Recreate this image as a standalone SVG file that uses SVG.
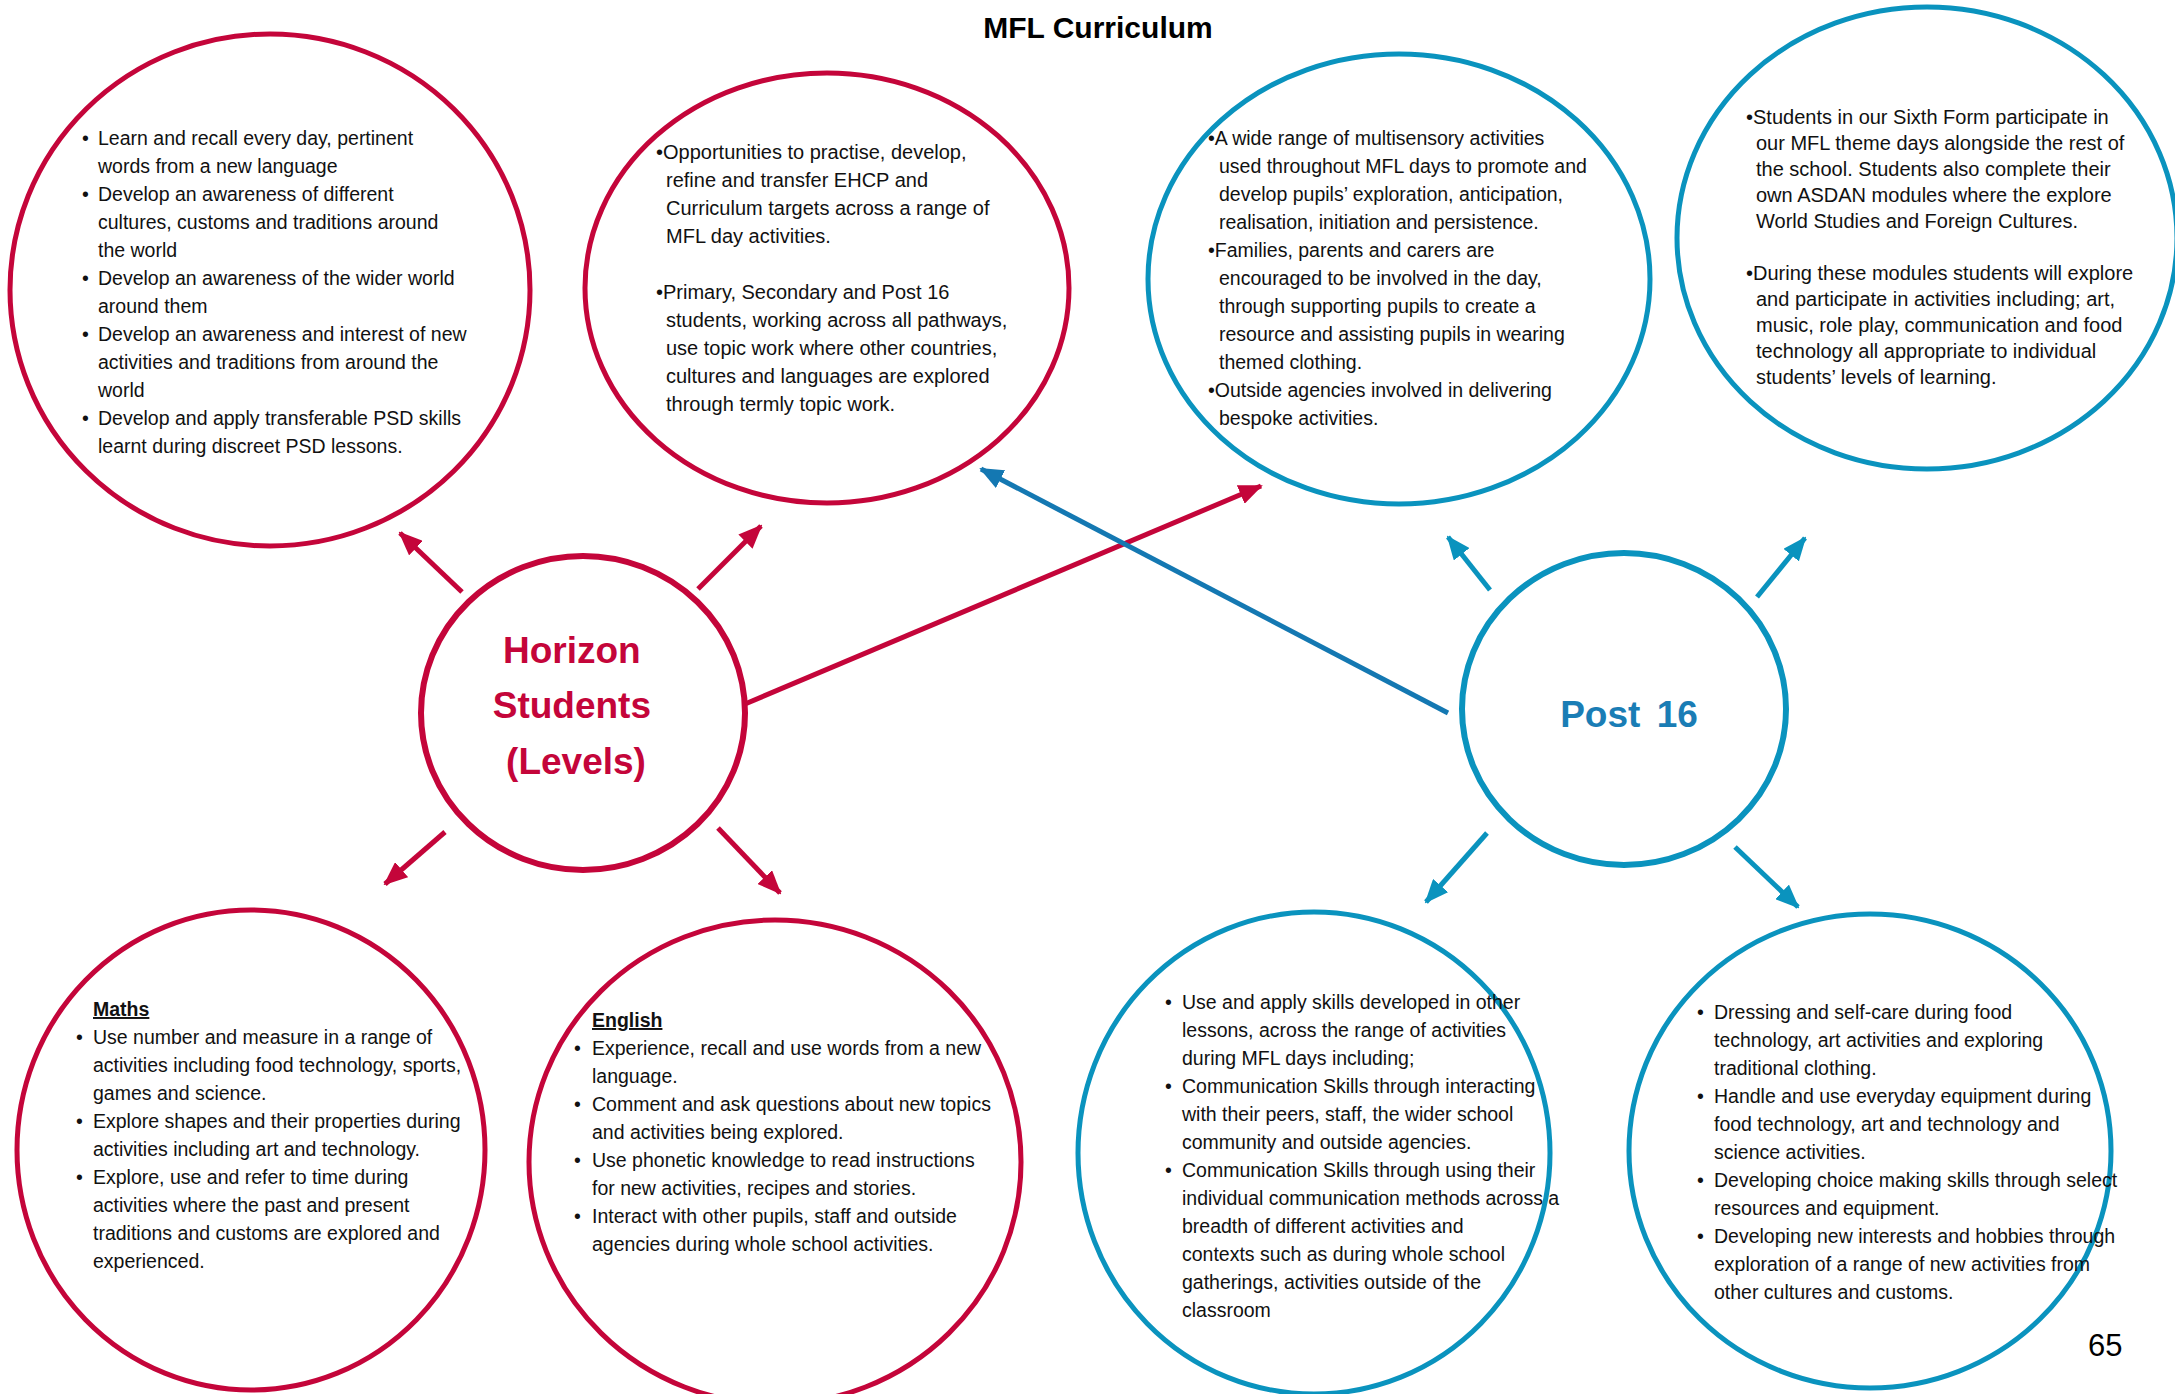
<svg xmlns="http://www.w3.org/2000/svg" width="2175" height="1394" viewBox="0 0 2175 1394">
<defs>
<style>
.bg{fill:#ffffff}
.rc{fill:#ffffff;stroke:#C4053A;stroke-width:5}
.bc{fill:#ffffff;stroke:#0A93BE;stroke-width:5}
.rc2{fill:#ffffff;stroke:#C4053A;stroke-width:6}
.bc2{fill:#ffffff;stroke:#0A93BE;stroke-width:6}
.t{font-family:"Liberation Sans",Arial,sans-serif;font-size:19.5px;fill:#111111}
.t2{font-family:"Liberation Sans",Arial,sans-serif;font-size:20px;fill:#111111}
.t4{font-family:"Liberation Sans",Arial,sans-serif;font-size:20px;fill:#111111}
.h{font-family:"Liberation Sans",Arial,sans-serif;font-size:19.5px;font-weight:bold;text-decoration:underline;fill:#111111}
.title{font-family:"Liberation Sans",Arial,sans-serif;font-size:30px;font-weight:bold;fill:#000000}
.hz{font-family:"Liberation Sans",Arial,sans-serif;font-size:37px;font-weight:bold;fill:#C4053A}
.p16{font-family:"Liberation Sans",Arial,sans-serif;font-size:37px;font-weight:bold;fill:#1A7DB5;word-spacing:6px}
.pg{font-family:"Liberation Sans",Arial,sans-serif;font-size:31px;fill:#000000}
.ra{stroke:#C4053A;stroke-width:5;fill:none}
.ba{stroke:#0A93BE;stroke-width:5;fill:none}
.bd{stroke:#1478B2;stroke-width:5;fill:none}
</style>
<marker id="mr" markerUnits="userSpaceOnUse" markerWidth="24" markerHeight="20" refX="22" refY="10" orient="auto"><path d="M0,0 L24,10 L0,20 z" fill="#C4053A"/></marker>
<marker id="mb" markerUnits="userSpaceOnUse" markerWidth="24" markerHeight="20" refX="22" refY="10" orient="auto"><path d="M0,0 L24,10 L0,20 z" fill="#0A93BE"/></marker>
<marker id="md" markerUnits="userSpaceOnUse" markerWidth="24" markerHeight="20" refX="22" refY="10" orient="auto"><path d="M0,0 L24,10 L0,20 z" fill="#1478B2"/></marker>
</defs>
<rect class="bg" x="0" y="0" width="2175" height="1394"/>
<text class="title" x="1098" y="38" text-anchor="middle">MFL Curriculum</text>

<g id="node-skills">
<ellipse class="rc" cx="270" cy="290" rx="260" ry="256"/>
<text class="t">
<tspan x="82" y="145">•</tspan><tspan x="98" y="145">Learn and recall every day, pertinent</tspan>
<tspan x="98" y="173">words from a new language</tspan>
<tspan x="82" y="201">•</tspan><tspan x="98" y="201">Develop an awareness of different</tspan>
<tspan x="98" y="229">cultures, customs and traditions around</tspan>
<tspan x="98" y="257">the world</tspan>
<tspan x="82" y="285">•</tspan><tspan x="98" y="285">Develop an awareness of the wider world</tspan>
<tspan x="98" y="313">around them</tspan>
<tspan x="82" y="341">•</tspan><tspan x="98" y="341">Develop an awareness and interest of new</tspan>
<tspan x="98" y="369">activities and traditions from around the</tspan>
<tspan x="98" y="397">world</tspan>
<tspan x="82" y="425">•</tspan><tspan x="98" y="425">Develop and apply transferable PSD skills</tspan>
<tspan x="98" y="453">learnt during discreet PSD lessons.</tspan>
</text>
</g>

<g id="node-opportunities">
<ellipse class="rc" cx="827" cy="288" rx="242" ry="215"/>
<text class="t2">
<tspan x="656" y="159">•Opportunities to practise, develop,</tspan>
<tspan x="666" y="187">refine and transfer EHCP and</tspan>
<tspan x="666" y="215">Curriculum targets across a range of</tspan>
<tspan x="666" y="243">MFL day activities.</tspan>
<tspan x="656" y="299">•Primary, Secondary and Post 16</tspan>
<tspan x="666" y="327">students, working across all pathways,</tspan>
<tspan x="666" y="355">use topic work where other countries,</tspan>
<tspan x="666" y="383">cultures and languages are explored</tspan>
<tspan x="666" y="411">through termly topic work.</tspan>
</text>
</g>

<g id="node-multisensory">
<ellipse class="bc" cx="1399" cy="279" rx="251" ry="225"/>
<text class="t">
<tspan x="1208" y="145">•A wide range of multisensory activities</tspan>
<tspan x="1219" y="173">used throughout MFL days to promote and</tspan>
<tspan x="1219" y="201">develop pupils’ exploration, anticipation,</tspan>
<tspan x="1219" y="229">realisation, initiation and persistence.</tspan>
<tspan x="1208" y="257">•Families, parents and carers are</tspan>
<tspan x="1219" y="285">encouraged to be involved in the day,</tspan>
<tspan x="1219" y="313">through supporting pupils to create a</tspan>
<tspan x="1219" y="341">resource and assisting pupils in wearing</tspan>
<tspan x="1219" y="369">themed clothing.</tspan>
<tspan x="1208" y="397">•Outside agencies involved in delivering</tspan>
<tspan x="1219" y="425">bespoke activities.</tspan>
</text>
</g>

<g id="node-sixthform">
<ellipse class="bc" cx="1927" cy="238" rx="250" ry="231"/>
<text class="t4">
<tspan x="1746" y="124">•Students in our Sixth Form participate in</tspan>
<tspan x="1756" y="150">our MFL theme days alongside the rest of</tspan>
<tspan x="1756" y="176">the school. Students also complete their</tspan>
<tspan x="1756" y="202">own ASDAN modules where the explore</tspan>
<tspan x="1756" y="228">World Studies and Foreign Cultures.</tspan>
<tspan x="1746" y="280">•During these modules students will explore</tspan>
<tspan x="1756" y="306">and participate in activities including; art,</tspan>
<tspan x="1756" y="332">music, role play, communication and food</tspan>
<tspan x="1756" y="358">technology all appropriate to individual</tspan>
<tspan x="1756" y="384">students’ levels of learning.</tspan>
</text>
</g>

<g id="node-horizon">
<ellipse class="rc2" cx="583" cy="713" rx="162" ry="157"/>
<text class="hz" text-anchor="middle">
<tspan x="577" y="663">Horizon</tspan>
<tspan x="577" y="718">Students</tspan>
<tspan x="576" y="774">(Levels)</tspan>
</text>
</g>

<g id="node-post16">
<ellipse class="bc2" cx="1624" cy="709" rx="162" ry="156"/>
<text class="p16" x="1629" y="727" text-anchor="middle">Post 16</text>
</g>

<g id="node-maths">
<ellipse class="rc" cx="251" cy="1150" rx="234" ry="240"/>
<text class="h" x="93" y="1016">Maths</text>
<text class="t">
<tspan x="76" y="1044">•</tspan><tspan x="93" y="1044">Use number and measure in a range of</tspan>
<tspan x="93" y="1072">activities including food technology, sports,</tspan>
<tspan x="93" y="1100">games and science.</tspan>
<tspan x="76" y="1128">•</tspan><tspan x="93" y="1128">Explore shapes and their properties during</tspan>
<tspan x="93" y="1156">activities including art and technology.</tspan>
<tspan x="76" y="1184">•</tspan><tspan x="93" y="1184">Explore, use and refer to time during</tspan>
<tspan x="93" y="1212">activities where the past and present</tspan>
<tspan x="93" y="1240">traditions and customs are explored and</tspan>
<tspan x="93" y="1268">experienced.</tspan>
</text>
</g>

<g id="node-english">
<ellipse class="rc" cx="775" cy="1162" rx="246" ry="242"/>
<text class="h" x="592" y="1027">English</text>
<text class="t">
<tspan x="574" y="1055">•</tspan><tspan x="592" y="1055">Experience, recall and use words from a new</tspan>
<tspan x="592" y="1083">language.</tspan>
<tspan x="574" y="1111">•</tspan><tspan x="592" y="1111">Comment and ask questions about new topics</tspan>
<tspan x="592" y="1139">and activities being explored.</tspan>
<tspan x="574" y="1167">•</tspan><tspan x="592" y="1167">Use phonetic knowledge to read instructions</tspan>
<tspan x="592" y="1195">for new activities, recipes and stories.</tspan>
<tspan x="574" y="1223">•</tspan><tspan x="592" y="1223">Interact with other pupils, staff and outside</tspan>
<tspan x="592" y="1251">agencies during whole school activities.</tspan>
</text>
</g>

<g id="node-communication">
<ellipse class="bc" cx="1314" cy="1153" rx="236" ry="241"/>
<text class="t">
<tspan x="1165" y="1009">•</tspan><tspan x="1182" y="1009">Use and apply skills developed in other</tspan>
<tspan x="1182" y="1037">lessons, across the range of activities</tspan>
<tspan x="1182" y="1065">during MFL days including;</tspan>
<tspan x="1165" y="1093">•</tspan><tspan x="1182" y="1093">Communication Skills through interacting</tspan>
<tspan x="1182" y="1121">with their peers, staff, the wider school</tspan>
<tspan x="1182" y="1149">community and outside agencies.</tspan>
<tspan x="1165" y="1177">•</tspan><tspan x="1182" y="1177">Communication Skills through using their</tspan>
<tspan x="1182" y="1205">individual communication methods across a</tspan>
<tspan x="1182" y="1233">breadth of different activities and</tspan>
<tspan x="1182" y="1261">contexts such as during whole school</tspan>
<tspan x="1182" y="1289">gatherings, activities outside of the</tspan>
<tspan x="1182" y="1317">classroom</tspan>
</text>
</g>

<g id="node-selfcare">
<ellipse class="bc" cx="1870" cy="1151" rx="241" ry="237"/>
<text class="t">
<tspan x="1697" y="1019">•</tspan><tspan x="1714" y="1019">Dressing and self-care during food</tspan>
<tspan x="1714" y="1047">technology, art activities and exploring</tspan>
<tspan x="1714" y="1075">traditional clothing.</tspan>
<tspan x="1697" y="1103">•</tspan><tspan x="1714" y="1103">Handle and use everyday equipment during</tspan>
<tspan x="1714" y="1131">food technology, art and technology and</tspan>
<tspan x="1714" y="1159">science activities.</tspan>
<tspan x="1697" y="1187">•</tspan><tspan x="1714" y="1187">Developing choice making skills through select</tspan>
<tspan x="1714" y="1215">resources and equipment.</tspan>
<tspan x="1697" y="1243">•</tspan><tspan x="1714" y="1243">Developing new interests and hobbies through</tspan>
<tspan x="1714" y="1271">exploration of a range of new activities from</tspan>
<tspan x="1714" y="1299">other cultures and customs.</tspan>
</text>
</g>

<g id="connectors">
<line class="ra" x1="462" y1="592" x2="400" y2="533" marker-end="url(#mr)"/>
<line class="ra" x1="698" y1="589" x2="761" y2="526" marker-end="url(#mr)"/>
<line class="ra" x1="445" y1="832" x2="385" y2="884" marker-end="url(#mr)"/>
<line class="ra" x1="718" y1="828" x2="780" y2="893" marker-end="url(#mr)"/>
<line class="ra" x1="745" y1="704" x2="1261" y2="486" marker-end="url(#mr)"/>
<line class="ba" x1="1490" y1="590" x2="1448" y2="537" marker-end="url(#mb)"/>
<line class="ba" x1="1757" y1="597" x2="1805" y2="538" marker-end="url(#mb)"/>
<line class="ba" x1="1487" y1="833" x2="1426" y2="902" marker-end="url(#mb)"/>
<line class="ba" x1="1735" y1="847" x2="1798" y2="907" marker-end="url(#mb)"/>
<line class="bd" x1="1448" y1="713" x2="981" y2="469" marker-end="url(#md)"/>
</g>

<text class="pg" x="2088" y="1356">65</text>
</svg>
